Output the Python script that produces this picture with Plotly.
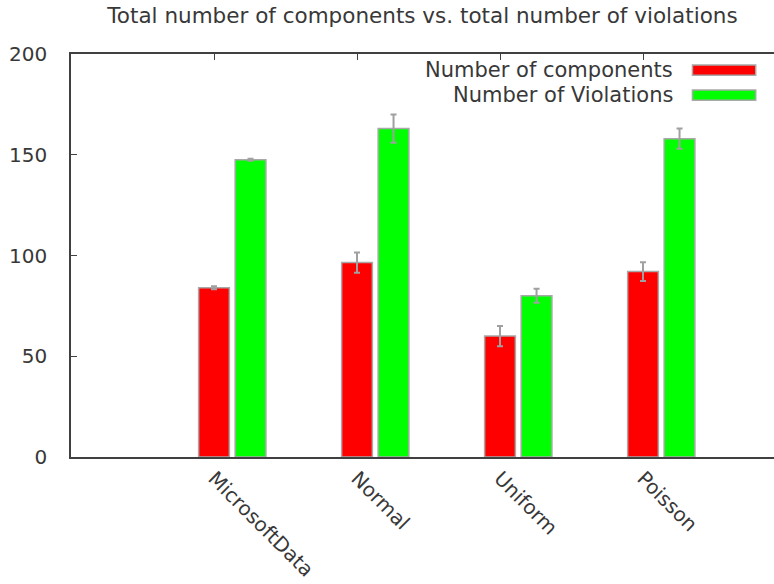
import plotly.graph_objects as go

categories = ["MicrosoftData", "Normal", "Uniform", "Poisson"]
components = [84, 96.5, 60, 92]
components_err = [0.8, 5, 5, 4.7]
violations = [147.5, 163, 80, 158]
violations_err = [0.5, 7, 3.5, 5]
y_ticks = [0, 50, 100, 150, 200]

positions = list(range(1, len(categories) + 1))

FONT = "DejaVu Sans"
TXT = "#383838"
EDGE = "#a8a8a8"

fig = go.Figure()
fig.add_trace(go.Bar(
    x=positions, y=components, width=0.215, offset=-0.1075,
    marker=dict(color="#ff0000", line=dict(color=EDGE, width=1.5)),
    error_y=dict(type="data", array=components_err, color="#a0a0a0", thickness=2, width=3),
    name="Number of components", showlegend=False))
fig.add_trace(go.Bar(
    x=positions, y=violations, width=0.215, offset=0.148,
    marker=dict(color="#00ff00", line=dict(color=EDGE, width=1.5)),
    error_y=dict(type="data", array=violations_err, color="#a0a0a0", thickness=2, width=3),
    name="Number of Violations", showlegend=False))

# gnuplot-style legend: text on the left, key on the right
legend_items = [("Number of components", "#ff0000", 0.960), ("Number of Violations", "#00ff00", 0.898)]
for label, col, yy in legend_items:
    fig.add_annotation(x=0.859, y=yy, xref="paper", yref="paper", text=label,
                       showarrow=False, xanchor="right", yanchor="middle",
                       font=dict(family=FONT, size=21, color=TXT))
    fig.add_shape(type="rect", xref="paper", yref="paper", x0=0.884, x1=0.974,
                  y0=yy - 0.0125, y1=yy + 0.0125, fillcolor=col,
                  line=dict(color=EDGE, width=1.5))

fig.update_layout(
    width=774, height=584,
    margin=dict(l=71, r=0, t=54, b=127),
    paper_bgcolor="white", plot_bgcolor="white",
    barmode="overlay",
    title=dict(text="Total number of components vs. total number of violations",
               x=0.5, xref="paper", xanchor="center", y=1 - 15 / 584, yanchor="middle",
               font=dict(family=FONT, size=21.5, color=TXT)),
    font=dict(family=FONT, size=20, color=TXT),
)
fig.update_xaxes(
    range=[0, 703 / 143], tickvals=positions, ticktext=categories, tickangle=45,
    showgrid=False, zeroline=False, showline=True, linecolor="#404040", linewidth=1.5,
    mirror="allticks", ticks="inside", ticklen=6, tickcolor="#404040", layer="below traces",
    automargin=False, tickfont=dict(family=FONT, size=20, color=TXT))
fig.update_yaxes(
    range=[0, 200], tickvals=y_ticks, showgrid=False, zeroline=False,
    showline=True, linecolor="#404040", linewidth=1.5, ticks="inside", ticklen=6,
    tickcolor="#404040", ticklabelstandoff=18, automargin=False,
    tickfont=dict(family=FONT, size=20, color=TXT))

fig.write_html("out.html")
